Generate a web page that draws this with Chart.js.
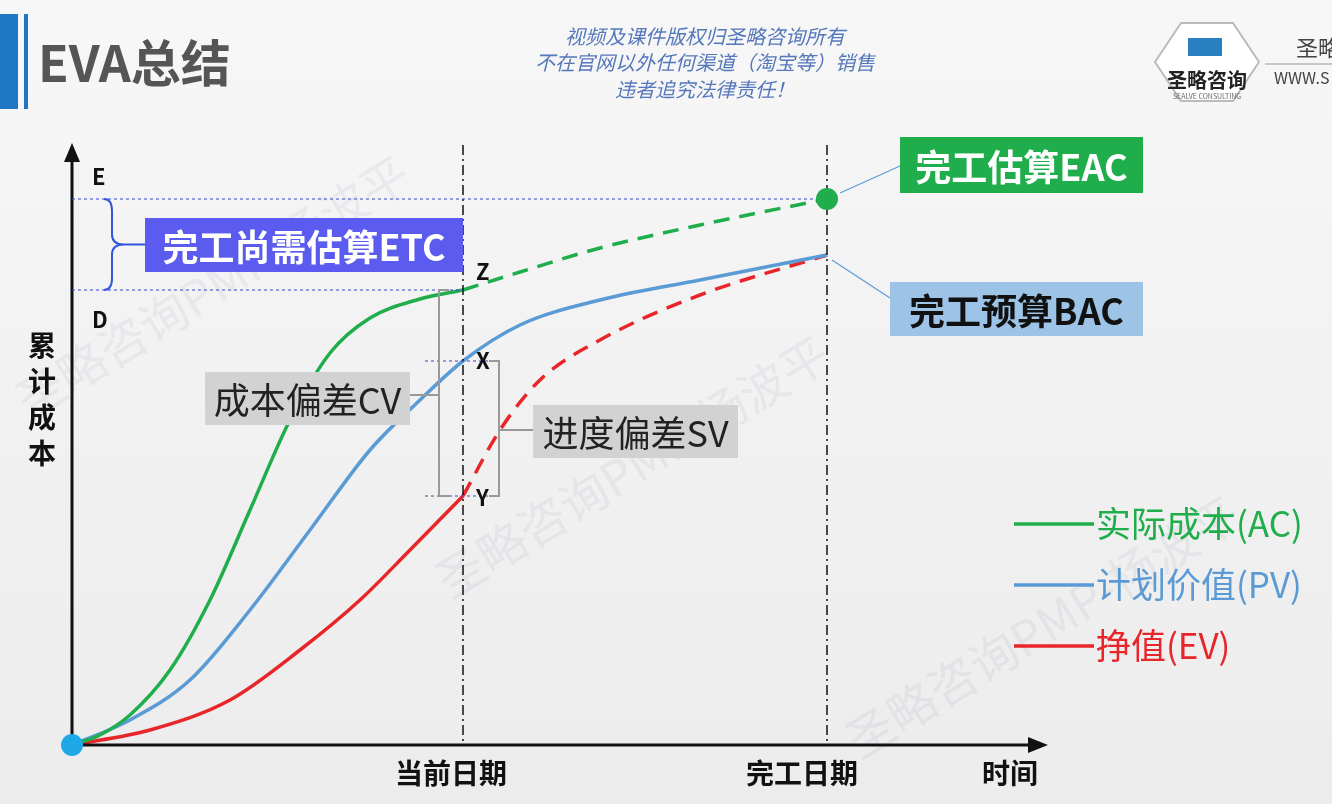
<!DOCTYPE html>
<html lang="zh">
<head>
<meta charset="UTF-8" />
<title>EVA总结</title>
<script src="https://cdn.jsdelivr.net/npm/chart.js"></script>
<style>
  html, body { margin: 0; padding: 0; background: #f3f3f3; }
  #wrap { width: 1332px; height: 804px; position: relative; }
</style>
</head>
<body>
<div id="wrap"><canvas id="eva" width="1332" height="804"></canvas></div>
<script>
  // 曲线数据 (x: 时间, y: 累计成本)
  const acSolid = [[0,0],[28,10],[58,30],[98,75],[138,145],[178,235],[218,325],[258,392],[298,427],[348,446],[391,455]];
  const acDash  = [[391,455],[448,473],[528,497],[628,520],[755,546]];
  const pvLine  = [[0,0],[58,25],[118,65],[178,135],[238,215],[298,295],[348,345],[391,384],[448,420],[528,445],[628,465],[755,490]];
  const evSolid = [[0,0],[78,15],[158,45],[228,95],[288,145],[338,195],[391,249]];
  const evDash  = [[391,249],[428,315],[468,365],[528,405],[628,450],[755,490]];

  const nowX = 391, doneX = 755;
  const levelE = 546, levelD = 455, levelX = 384, levelY = 249;

  const seriesNames = ['实际成本(AC)', '计划价值(PV)', '挣值(EV)'];
  const seriesColors = ['#1fae4b', '#5b9bd5', '#e8262a'];

  const toPts = arr => arr.map(p => ({x: p[0], y: p[1]}));
  const FONT = '"Noto Sans CJK SC", "Noto Sans", sans-serif';

  function ds(arr, color, dash) {
    return {
      data: toPts(arr), borderColor: color, borderWidth: 3.5, borderDash: dash || [],
      pointRadius: 0, tension: 0.4, cubicInterpolationMode: 'monotone', fill: false
    };
  }

  function box(ctx, x, y, w, h, bg, text, color, font) {
    ctx.fillStyle = bg;
    ctx.fillRect(x, y, w, h);
    ctx.fillStyle = color;
    ctx.font = font;
    ctx.textAlign = 'center';
    ctx.textBaseline = 'middle';
    ctx.fillText(text, x + w / 2, y + h / 2 + 2);
  }

  const backdrop = {
    id: 'backdrop',
    beforeDraw(chart) {
      const ctx = chart.ctx;
      const g = ctx.createLinearGradient(0, 0, 0, 804);
      g.addColorStop(0, '#f7f7f7');
      g.addColorStop(1, '#ececec');
      ctx.fillStyle = g;
      ctx.fillRect(0, 0, 1332, 804);

      // 水印
      ctx.save();
      ctx.fillStyle = 'rgba(120,140,170,0.10)';
      ctx.font = '48px ' + FONT;
      [[30, 420], [450, 600], [860, 760]].forEach(p => {
        ctx.save();
        ctx.translate(p[0], p[1]);
        ctx.rotate(-0.55);
        ctx.fillText('圣略咨询PMP-杨波平', 0, 0);
        ctx.restore();
      });
      ctx.restore();

      // 标题
      ctx.fillStyle = '#1f77c4';
      ctx.fillRect(0, 14, 18, 95);
      ctx.fillRect(24, 14, 4, 95);
      ctx.fillStyle = '#555';
      ctx.font = 'bold 50px ' + FONT;
      ctx.textAlign = 'left';
      ctx.textBaseline = 'middle';
      ctx.fillText('EVA总结', 38, 63);

      // 版权文字
      ctx.fillStyle = '#5577bb';
      ctx.font = 'italic 20px ' + FONT;
      ctx.textAlign = 'center';
      ctx.fillText('视频及课件版权归圣略咨询所有', 705, 36);
      ctx.fillText('不在官网以外任何渠道（淘宝等）销售', 705, 62);
      ctx.fillText('违者追究法律责任！', 705, 89);

      // logo
      ctx.strokeStyle = '#bbb';
      ctx.lineWidth = 2;
      ctx.beginPath();
      const cx = 1207, cy = 62;
      for (let i = 0; i < 6; i++) {
        const a = Math.PI / 3 * i;
        const px = cx + 52 * Math.cos(a), py = cy + 45 * Math.sin(a);
        i ? ctx.lineTo(px, py) : ctx.moveTo(px, py);
      }
      ctx.closePath();
      ctx.fillStyle = '#fff';
      ctx.fill();
      ctx.stroke();
      ctx.fillStyle = '#2a7fc0';
      ctx.fillRect(1188, 38, 34, 18);
      ctx.fillStyle = '#222';
      ctx.font = 'bold 20px ' + FONT;
      ctx.fillText('圣略咨询', cx, 80);
      ctx.font = '7px ' + FONT;
      ctx.fillStyle = '#666';
      ctx.fillText('SEALVE CONSULTING', cx, 96);
      ctx.textAlign = 'left';
      ctx.fillStyle = '#444';
      ctx.font = '22px ' + FONT;
      ctx.fillText('圣略', 1296, 48);
      ctx.font = '16px ' + FONT;
      ctx.fillText('WWW.S', 1274, 78);
      ctx.strokeStyle = '#999';
      ctx.lineWidth = 1;
      ctx.beginPath(); ctx.moveTo(1265, 64); ctx.lineTo(1332, 64); ctx.stroke();
    }
  };

  const overlay = {
    id: 'overlay',
    afterDatasetsDraw(chart) {
      const ctx = chart.ctx;
      const X = v => chart.scales.x.getPixelForValue(v);
      const Y = v => chart.scales.y.getPixelForValue(v);
      const x0 = X(0), y0 = Y(0);
      ctx.save();

      // 坐标轴
      ctx.strokeStyle = '#111';
      ctx.fillStyle = '#111';
      ctx.lineWidth = 3;
      ctx.beginPath(); ctx.moveTo(x0, y0); ctx.lineTo(x0, 155); ctx.stroke();
      ctx.beginPath(); ctx.moveTo(x0, y0); ctx.lineTo(1035, y0); ctx.stroke();
      ctx.beginPath(); ctx.moveTo(x0 - 8, 162); ctx.lineTo(x0, 143); ctx.lineTo(x0 + 8, 162); ctx.fill();
      ctx.beginPath(); ctx.moveTo(1028, y0 - 8); ctx.lineTo(1048, y0); ctx.lineTo(1028, y0 + 8); ctx.fill();

      // 点划线竖线
      ctx.lineWidth = 1.5;
      ctx.setLineDash([10, 4, 2, 4]);
      [nowX, doneX].forEach(v => {
        ctx.beginPath(); ctx.moveTo(X(v), 145); ctx.lineTo(X(v), y0); ctx.stroke();
      });

      // 虚线水平线
      ctx.strokeStyle = '#3344cc';
      ctx.lineWidth = 1;
      ctx.setLineDash([3, 3]);
      const hline = (a, b, lv) => { ctx.beginPath(); ctx.moveTo(a, Y(lv)); ctx.lineTo(b, Y(lv)); ctx.stroke(); };
      hline(x0, X(doneX), levelE);
      hline(x0, X(nowX), levelD);
      hline(X(nowX) - 38, X(nowX) + 38, levelX);
      hline(X(nowX) - 38, X(nowX) + 38, levelY);
      ctx.setLineDash([]);

      // 花括号 ETC
      ctx.strokeStyle = '#3355dd';
      ctx.lineWidth = 2;
      const bx = 112, t = Y(levelE), b = Y(levelD), m = (t + b) / 2;
      ctx.beginPath();
      ctx.moveTo(bx - 8, t);
      ctx.quadraticCurveTo(bx, t, bx, t + 12);
      ctx.lineTo(bx, m - 10);
      ctx.quadraticCurveTo(bx, m, bx + 12, m);
      ctx.quadraticCurveTo(bx, m, bx, m + 10);
      ctx.lineTo(bx, b - 12);
      ctx.quadraticCurveTo(bx, b, bx - 8, b);
      ctx.moveTo(bx + 12, m); ctx.lineTo(145, m);
      ctx.stroke();

      // CV / SV 括号
      ctx.strokeStyle = '#999';
      ctx.lineWidth = 2;
      const cvx = X(nowX) - 24;
      ctx.beginPath();
      ctx.moveTo(cvx + 10, Y(levelD)); ctx.lineTo(cvx, Y(levelD)); ctx.lineTo(cvx, Y(levelY)); ctx.lineTo(cvx + 10, Y(levelY));
      ctx.moveTo(cvx, 395); ctx.lineTo(410, 395);
      const svx = X(nowX) + 36;
      ctx.moveTo(svx - 10, Y(levelX)); ctx.lineTo(svx, Y(levelX)); ctx.lineTo(svx, Y(levelY)); ctx.lineTo(svx - 10, Y(levelY));
      ctx.moveTo(svx, 430); ctx.lineTo(533, 430);
      ctx.stroke();

      // 指示线
      ctx.strokeStyle = '#5b9bd5';
      ctx.lineWidth = 1.2;
      ctx.beginPath(); ctx.moveTo(900, 166); ctx.lineTo(840, 193); ctx.stroke();
      ctx.beginPath(); ctx.moveTo(890, 298); ctx.lineTo(832, 260); ctx.stroke();

      // 端点
      ctx.fillStyle = '#1fae4b';
      ctx.beginPath(); ctx.arc(X(doneX), Y(levelE), 11, 0, Math.PI * 2); ctx.fill();
      ctx.fillStyle = '#1fa8e8';
      ctx.beginPath(); ctx.arc(x0, y0, 11, 0, Math.PI * 2); ctx.fill();

      // 标签框
      box(ctx, 900, 137, 243, 56, '#1fae4b', '完工估算EAC', '#fff', 'bold 36px ' + FONT);
      box(ctx, 890, 282, 253, 54, '#9dc3e6', '完工预算BAC', '#111', 'bold 36px ' + FONT);
      box(ctx, 145, 218, 318, 54, '#5b5bf0', '完工尚需估算ETC', '#fff', 'bold 36px ' + FONT);
      box(ctx, 205, 372, 205, 53, '#d2d2d2', '成本偏差CV', '#222', '36px ' + FONT);
      box(ctx, 533, 405, 205, 53, '#d2d2d2', '进度偏差SV', '#222', '36px ' + FONT);

      // 字母
      ctx.fillStyle = '#111';
      ctx.font = 'bold 22px ' + FONT;
      ctx.textAlign = 'left';
      ctx.textBaseline = 'middle';
      ctx.fillText('E', 92, 177);
      ctx.fillText('D', 92, 320);
      ctx.fillText('Z', 476, 272);
      ctx.fillText('X', 476, 361);
      ctx.fillText('Y', 476, 498);

      // 轴标签
      ctx.font = 'bold 28px ' + FONT;
      ctx.textAlign = 'center';
      ['累', '计', '成', '本'].forEach((c, i) => ctx.fillText(c, 42, 345 + i * 36));
      ctx.fillText('当前日期', X(nowX) - 12, 773);
      ctx.fillText('完工日期', X(doneX) - 25, 773);
      ctx.fillText('时间', 1010, 773);

      // 图例
      ctx.textAlign = 'left';
      ctx.font = '35px ' + FONT;
      seriesNames.forEach((n, i) => {
        const ly = 524 + i * 61;
        ctx.strokeStyle = seriesColors[i];
        ctx.lineWidth = 3.5;
        ctx.beginPath(); ctx.moveTo(1014, ly); ctx.lineTo(1094, ly); ctx.stroke();
        ctx.fillStyle = seriesColors[i];
        ctx.fillText(n, 1096, ly);
      });
      ctx.restore();
    }
  };

  new Chart(document.getElementById('eva'), {
    type: 'line',
    data: {
      datasets: [
        ds(acSolid, seriesColors[0]), ds(acDash, seriesColors[0], [16, 10]),
        ds(pvLine, seriesColors[1]),
        ds(evSolid, seriesColors[2]), ds(evDash, seriesColors[2], [16, 10])
      ]
    },
    options: {
      responsive: false,
      animation: false,
      layout: { padding: { left: 72, right: 287, top: 150, bottom: 59 } },
      plugins: { legend: { display: false }, tooltip: { enabled: false } },
      scales: {
        x: { type: 'linear', min: 0, max: 973, display: false },
        y: { type: 'linear', min: 0, max: 595, display: false }
      }
    },
    plugins: [backdrop, overlay]
  });
</script>
</body>
</html>
